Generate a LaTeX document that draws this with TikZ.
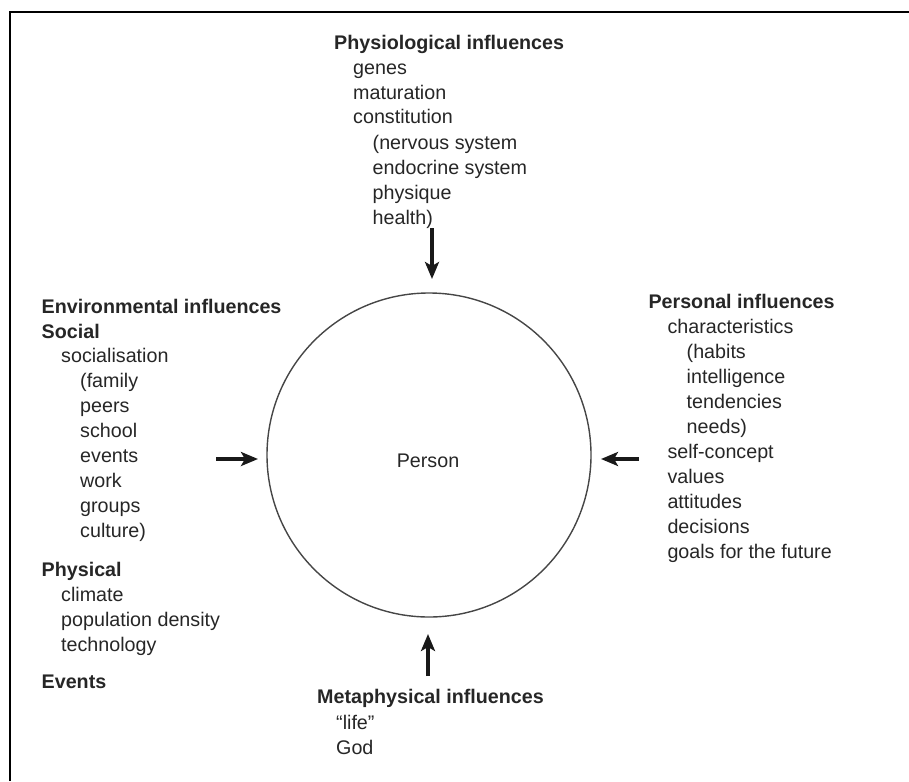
\documentclass[tikz,border=0pt]{standalone}
\usepackage{fontspec}
\setmainfont{Liberation Sans}
\usetikzlibrary{arrows.meta}
\definecolor{ink}{RGB}{38,38,38}
\definecolor{ringcol}{RGB}{70,70,70}
\tikzset{
  txt/.style={anchor=base west, inner sep=0pt, text=ink, font=\fontsize{19.7}{24}\selectfont},
  head/.style={txt, font=\fontsize{19.7}{24}\selectfont\bfseries},
  ring/.style={circle, draw=ringcol, line width=1.4pt, minimum size=324pt, inner sep=0pt},
  inflow/.style={draw=black!90, line width=3.8pt, -{Stealth[length=17pt,width=14pt,inset=4pt]}},
  frameline/.style={draw=black, line width=2.8pt}
}
\begin{document}
\begin{tikzpicture}[x=1pt,y=-1pt]
\useasboundingbox (0,0) rectangle (909,781);
% frame (top and left edges only)
\coordinate (fa) at (10,781);
\coordinate (fb) at (10,12);
\coordinate (fc) at (909,12);
\draw[frameline] (fa) -- (fb) -- (fc);

% centre
\node[ring] (person) at (429,455) {};
\node[anchor=base, inner sep=0pt, text=ink, font=\fontsize{19.7}{24}\selectfont] (personlbl) at (428,467) {Person};

% physiological
\node[head] (ph0) at (334,50) {Physiological influences};
\node[txt] (ph1) at (353,75) {genes};
\node[txt] (ph2) at (353,99.5) {maturation};
\node[txt] (ph3) at (353,124) {constitution};
\node[txt] (ph4) at (372.5,149) {(nervous system};
\node[txt] (ph5) at (372.5,174) {endocrine system};
\node[txt] (ph6) at (372.5,199) {physique};
\node[txt] (ph7) at (372.5,224) {health)};

% environmental
\node[head] (en0) at (41.5,313) {Environmental influences};
\node[head] (en1) at (41.5,338) {Social};
\node[txt] (en2) at (61,362.5) {socialisation};
\node[txt] (en3) at (80,387.5) {(family};
\node[txt] (en4) at (80,412.5) {peers};
\node[txt] (en5) at (80,437.5) {school};
\node[txt] (en6) at (80,462.5) {events};
\node[txt] (en7) at (80,487.5) {work};
\node[txt] (en8) at (80,512.5) {groups};
\node[txt] (en9) at (80,537.5) {culture)};
\node[head] (en10) at (41.5,576) {Physical};
\node[txt] (en11) at (61,601) {climate};
\node[txt] (en12) at (61,626) {population density};
\node[txt] (en13) at (61,651) {technology};
\node[head] (en14) at (41.5,688) {Events};

% personal
\node[head] (pe0) at (648.3,308.3) {Personal influences};
\node[txt] (pe1) at (667.3,333) {characteristics};
\node[txt] (pe2) at (686.5,358) {(habits};
\node[txt] (pe3) at (686.5,383) {intelligence};
\node[txt] (pe4) at (686.5,408) {tendencies};
\node[txt] (pe5) at (686.5,433) {needs)};
\node[txt] (pe6) at (667.3,458) {self-concept};
\node[txt] (pe7) at (667.3,483) {values};
\node[txt] (pe8) at (667.3,508) {attitudes};
\node[txt] (pe9) at (667.3,533) {decisions};
\node[txt] (pe10) at (667.3,558) {goals for the future};

% metaphysical
\node[head] (me0) at (317,703) {Metaphysical influences};
\node[txt] (me1) at (336,729) {“life”};
\node[txt] (me2) at (336,754) {God};

% arrows
\coordinate (atop0) at (432,228);
\coordinate (atop1) at (432,279);
\coordinate (alef0) at (216,459);
\coordinate (alef1) at (258,459);
\coordinate (arig0) at (639,459);
\coordinate (arig1) at (601,459);
\coordinate (abot0) at (428,676);
\coordinate (abot1) at (428,634);
\draw[inflow] (atop0) -- (atop1);
\draw[inflow] (alef0) -- (alef1);
\draw[inflow] (arig0) -- (arig1);
\draw[inflow] (abot0) -- (abot1);
\end{tikzpicture}
\end{document}
